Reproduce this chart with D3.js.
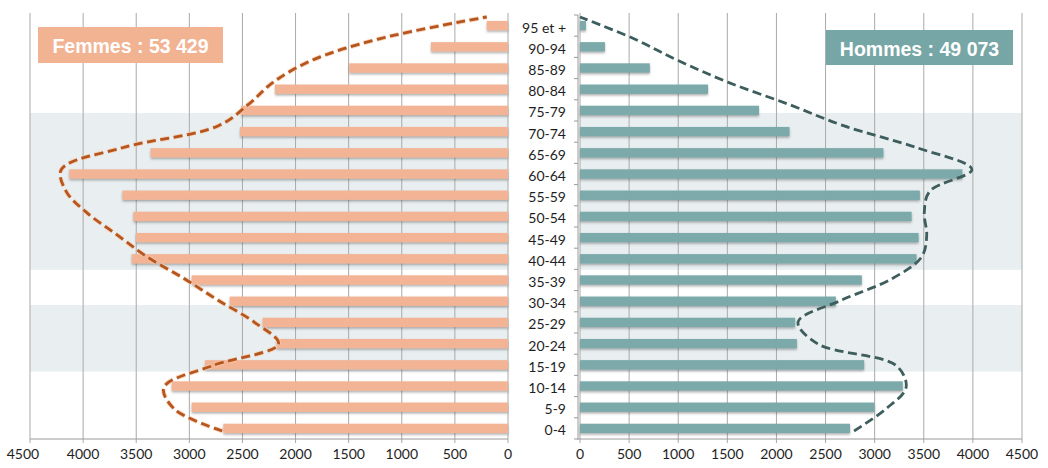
<!DOCTYPE html>
<html lang="fr">
<head>
<meta charset="utf-8">
<script src="https://cdn.jsdelivr.net/npm/d3@7"></script>
<style>
  html, body { margin: 0; padding: 0; background: #ffffff; }
  svg { display: block; }
</style>
</head>
<body>
<svg id="pyramide" width="1048" height="468"></svg>
<script>
// Tranches d'âge, de bas en haut
const tranches = ["0-4", "5-9", "10-14", "15-19", "20-24", "25-29", "30-34", "35-39",
  "40-44", "45-49", "50-54", "55-59", "60-64", "65-69", "70-74", "75-79",
  "80-84", "85-89", "90-94", "95 et +"];

// Effectifs par tranche (barres)
const femmes = [2680, 2978, 3166, 2853, 2178, 2310, 2620, 2978, 3543, 3502,
  3527, 3630, 4130, 3365, 2523, 2514, 2193, 1494, 725, 200];
const hommes = [2749, 2997, 3286, 2893, 2208, 2190, 2605, 2869, 3426, 3447,
  3376, 3460, 3893, 3089, 2133, 1822, 1303, 711, 254, 60];

// Profil de comparaison (courbes en pointillés)
const femmesRef = [2690, 3140, 3240, 2780, 2160, 2390, 2730, 3050, 3400, 3680,
  3960, 4160, 4205, 3630, 2730, 2440, 2212, 1852, 1210, 200];
const hommesRef = [2790, 3110, 3320, 3220, 2420, 2220, 2660, 3180, 3480, 3530,
  3505, 3560, 3990, 3430, 2690, 2120, 1510, 1000, 550, 0];

// Graduations de l'axe horizontal
const graduations = [0, 500, 1000, 1500, 2000, 2500, 3000, 3500, 4000, 4500];

// Fonds grisés, en années d'âge
const zonesGrisees = [[15.9, 31.6], [39.9, 76.9]];

// Totaux affichés dans les cartouches
const totalFemmes = "Femmes : 53 429";
const totalHommes = "Hommes : 49 073";

const svg = d3.select("#pyramide");
const font = "Lato, 'Open Sans', sans-serif";

const yBottom = 439, yTop = 15;
const y = d3.scaleBand().domain(tranches).range([yBottom, yTop])
  .paddingInner(0.56).paddingOuter(0.28);
const yLigne = d3.scalePoint().domain(tranches).range([431, 17]);
const yAge = d3.scaleLinear().domain([0, 100]).range([yBottom, yTop]);

const xF = d3.scaleLinear().domain([0, 4500]).range([508, 30]);
const xH = d3.scaleLinear().domain([0, 4500]).range([580, 1022]);

// Ombre portée des barres
const defs = svg.append("defs");
const f = defs.append("filter").attr("id", "ombre")
  .attr("x", "-5%").attr("y", "-50%").attr("width", "110%").attr("height", "220%");
f.append("feDropShadow").attr("dx", 0).attr("dy", 1.6).attr("stdDeviation", 0.9)
  .attr("flood-color", "#4a4a4a").attr("flood-opacity", 0.45);

const colF = "#f3b495", colH = "#7ba9a9";
const lineF = "#b5561f", lineH = "#3e5d5d";
const gridCol = "#a9a9a9";

// Fonds grisés
[xF, xH].forEach(sc => {
  svg.append("g").selectAll("rect").data(zonesGrisees).join("rect")
    .attr("x", d3.min(sc.range()))
    .attr("width", Math.abs(sc.range()[1] - sc.range()[0]))
    .attr("y", d => yAge(d[1]))
    .attr("height", d => yAge(d[0]) - yAge(d[1]))
    .attr("fill", "#e9eff1");
});

// Grilles verticales
[xF, xH].forEach(sc => {
  svg.append("g").selectAll("line").data(graduations).join("line")
    .attr("x1", d => sc(d)).attr("x2", d => sc(d))
    .attr("y1", 13).attr("y2", yBottom + 4)
    .attr("stroke", gridCol).attr("stroke-width", 1);
});

// Lignes de base
svg.append("line").attr("x1", xF(4500)).attr("x2", xF(0))
  .attr("y1", yBottom).attr("y2", yBottom).attr("stroke", "#9a9a9a");
svg.append("line").attr("x1", 577).attr("x2", xH(4500))
  .attr("y1", yBottom).attr("y2", yBottom).attr("stroke", "#9a9a9a");

// Axe central (hommes) avec petits tirets entre tranches
svg.append("line").attr("x1", 578).attr("x2", 578)
  .attr("y1", yTop).attr("y2", yBottom).attr("stroke", "#9a9a9a");
const bornes = d3.range(tranches.length + 1).map(i => yBottom - i * y.step());
svg.append("g").selectAll("line").data(bornes).join("line")
  .attr("x1", 574).attr("x2", 578).attr("y1", d => d).attr("y2", d => d)
  .attr("stroke", "#9a9a9a");

// Barres
svg.append("g").attr("filter", "url(#ombre)").selectAll("rect")
  .data(tranches).join("rect")
  .attr("x", (d, i) => xF(femmes[i]))
  .attr("width", (d, i) => xF(0) - xF(femmes[i]))
  .attr("y", d => y(d)).attr("height", y.bandwidth())
  .attr("fill", colF);

svg.append("g").attr("filter", "url(#ombre)").selectAll("rect")
  .data(tranches).join("rect")
  .attr("x", xH(0))
  .attr("width", (d, i) => xH(hommes[i]) - xH(0))
  .attr("y", d => y(d)).attr("height", y.bandwidth())
  .attr("fill", colH);

// Courbes en pointillés
const courbe = (sc, vals) => d3.line()
  .x((d, i) => sc(vals[i]))
  .y(d => yLigne(d))
  .curve(d3.curveCatmullRom.alpha(0.5))(tranches);

svg.append("path").attr("d", courbe(xF, femmesRef))
  .attr("fill", "none").attr("stroke", "#f6c9ad").attr("stroke-width", 4.6)
  .attr("stroke-dasharray", "9 4.5").attr("opacity", 0.8);
svg.append("path").attr("d", courbe(xF, femmesRef))
  .attr("fill", "none").attr("stroke", lineF).attr("stroke-width", 2.8)
  .attr("stroke-dasharray", "9 4.5");
svg.append("path").attr("d", courbe(xH, hommesRef))
  .attr("fill", "none").attr("stroke", lineH).attr("stroke-width", 2.8)
  .attr("stroke-dasharray", "9 4.5");

// Libellés des tranches
svg.append("g").selectAll("text").data(tranches).join("text")
  .attr("x", 566)
  .attr("y", d => y(d) + y.bandwidth() / 2 + 1.5)
  .attr("text-anchor", "end").attr("dominant-baseline", "central")
  .attr("font-family", font).attr("font-size", 14).attr("fill", "#1e1e1e")
  .text(d => d);

// Graduations (la valeur extrême à gauche est décalée vers le bord)
[[xF, -7], [xH, 0]].forEach(([sc, decalage]) => {
  svg.append("g").selectAll("text").data(graduations).join("text")
    .attr("x", d => sc(d) + (d === 4500 ? decalage : 0)).attr("y", 453)
    .attr("text-anchor", "middle").attr("dominant-baseline", "central")
    .attr("font-family", font).attr("font-size", 14).attr("fill", "#1e1e1e")
    .text(d => d);
});

// Cartouches des totaux
function cartouche(x, yb, w, h, fill, label) {
  svg.append("rect").attr("x", x).attr("y", yb).attr("width", w).attr("height", h)
    .attr("fill", fill);
  svg.append("text").attr("x", x + w / 2).attr("y", yb + h / 2 + 1)
    .attr("text-anchor", "middle").attr("dominant-baseline", "central")
    .attr("font-family", "'Liberation Sans', Arial, sans-serif")
    .attr("font-weight", "bold").attr("font-size", 19.5).attr("fill", "#ffffff")
    .text(label);
}
cartouche(38, 27, 185, 36, "#f2b393", totalFemmes);
cartouche(826, 30, 187, 35, "#77a6a6", totalHommes);
</script>
</body>
</html>
